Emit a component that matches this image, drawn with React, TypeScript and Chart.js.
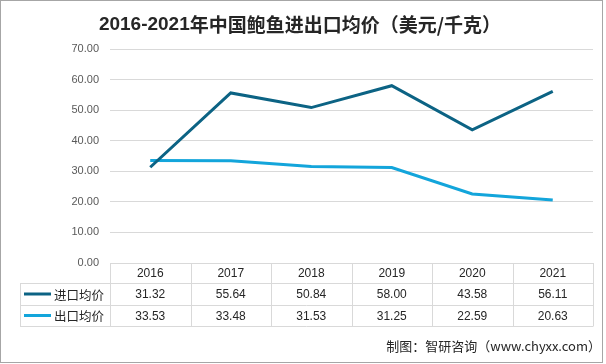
import React, { useEffect, useRef } from "react";
import { Chart, registerables } from "chart.js";

Chart.register(...registerables);

const titleNumPart = "2016-2021";
const titleCjkPart = "年中国鲍鱼进出口均价（美元/千克）";
const sourceText = "制图：智研咨询（www.chyxx.com）";
const years = ["2016", "2017", "2018", "2019", "2020", "2021"];
const seriesNames = ["进口均价", "出口均价"];
const importPrice = [31.32, 55.64, 50.84, 58.0, 43.58, 56.11];
const exportPrice = [33.53, 33.48, 31.53, 31.25, 22.59, 20.63];
const seriesColors = ["#0c6384", "#13a5db"];
const yMin = 0;
const yMax = 70;
const yStep = 10;

const NUM_FONT = '"Liberation Sans", "Noto Sans CJK SC", sans-serif';
const CJK_FONT = '"Noto Sans CJK SC", "Liberation Sans", sans-serif';

const decorPlugin = {
  id: "decor",
  afterDraw(chart: any) {
    const ctx = chart.ctx as CanvasRenderingContext2D;
    const area = chart.chartArea;
    const xs = chart.scales.x;
    ctx.save();

    // outer border
    ctx.strokeStyle = "#a6a6a6";
    ctx.lineWidth = 1;
    ctx.strokeRect(0.5, 0.5, 602, 362);

    // title (bold digits + CJK part)
    ctx.fillStyle = "#262626";
    ctx.textBaseline = "middle";
    ctx.textAlign = "left";
    const fNum = `bold 19px ${NUM_FONT}`;
    const fCjk = `bold 19px ${CJK_FONT}`;
    ctx.font = fNum;
    const w1 = ctx.measureText(titleNumPart).width;
    ctx.font = fCjk;
    const w2 = ctx.measureText(titleCjkPart).width;
    const tx = 300 - (w1 + w2) / 2;
    ctx.font = fNum;
    ctx.fillText(titleNumPart, tx, 25);
    ctx.font = fCjk;
    ctx.fillText(titleCjkPart, tx + w1, 25);

    // table
    const left = area.left;
    const right = area.right;
    const n = years.length;
    const colW = (right - left) / n;
    const yTop = area.bottom;
    const yH = yTop + 20;
    const yR1 = yTop + 42;
    const yR2 = yTop + 63;
    const labelLeft = 20;
    ctx.strokeStyle = "#d9d9d9";
    ctx.lineWidth = 1;
    const hLine = (x1: number, x2: number, y: number) => {
      ctx.beginPath();
      ctx.moveTo(x1, Math.round(y) + 0.5);
      ctx.lineTo(x2, Math.round(y) + 0.5);
      ctx.stroke();
    };
    const vLine = (x: number, y1: number, y2: number) => {
      ctx.beginPath();
      ctx.moveTo(Math.round(x) + 0.5, y1);
      ctx.lineTo(Math.round(x) + 0.5, y2);
      ctx.stroke();
    };
    hLine(left, right, yTop);
    hLine(labelLeft, right, yH);
    hLine(labelLeft, right, yR1);
    hLine(labelLeft, right, yR2);
    vLine(labelLeft, yH, yR2 + 0.5);
    for (let i = 0; i <= n; i++) vLine(left + i * colW, yTop, yR2 + 0.5);

    ctx.fillStyle = "#262626";
    ctx.font = `12px ${NUM_FONT}`;
    ctx.textAlign = "center";
    years.forEach((y, i) => {
      const cx = xs.getPixelForValue(i);
      ctx.fillText(y, cx, (yTop + yH) / 2 + 1);
      ctx.fillText(importPrice[i].toFixed(2), cx, (yH + yR1) / 2 + 1);
      ctx.fillText(exportPrice[i].toFixed(2), cx, (yR1 + yR2) / 2 + 1);
    });

    const rows = [
      [(yH + yR1) / 2, 0],
      [(yR1 + yR2) / 2, 1],
    ];
    rows.forEach(([cy, s]) => {
      ctx.strokeStyle = seriesColors[s];
      ctx.lineWidth = 3;
      ctx.beginPath();
      ctx.moveTo(24, cy);
      ctx.lineTo(51, cy);
      ctx.stroke();
      ctx.fillStyle = "#262626";
      ctx.font = `12.5px ${CJK_FONT}`;
      ctx.textAlign = "left";
      ctx.fillText(seriesNames[s], 54, cy + 1);
    });

    // source
    ctx.fillStyle = "#262626";
    ctx.font = `13px ${CJK_FONT}`;
    ctx.textAlign = "right";
    ctx.fillText(sourceText, 601, 346);

    ctx.restore();
  },
};

export default function App() {
  const ref = useRef<HTMLCanvasElement | null>(null);
  useEffect(() => {
    if (!ref.current) return;
    const chart = new Chart(ref.current, {
      type: "line",
      data: {
        labels: years,
        datasets: [
          {
            label: seriesNames[0],
            data: importPrice,
            borderColor: seriesColors[0],
            backgroundColor: seriesColors[0],
            borderWidth: 3,
            pointRadius: 0,
            tension: 0,
          },
          {
            label: seriesNames[1],
            data: exportPrice,
            borderColor: seriesColors[1],
            backgroundColor: seriesColors[1],
            borderWidth: 3,
            pointRadius: 0,
            tension: 0,
          },
        ],
      },
      options: {
        responsive: false,
        animation: false,
        layout: { padding: { left: 20, right: 13, top: 49, bottom: 101 } },
        plugins: {
          legend: { display: false },
          tooltip: { enabled: false },
          title: { display: false },
        },
        scales: {
          x: {
            type: "category",
            display: false,
            offset: true,
          },
          y: {
            min: yMin,
            max: yMax,
            afterFit: (scale: any) => {
              scale.width = 90;
            },
            ticks: {
              stepSize: yStep,
              padding: 11,
              color: "#595959",
              font: { family: NUM_FONT, size: 11 },
              callback: (v: any) => Number(v).toFixed(2),
            },
            grid: { color: "#d9d9d9", drawTicks: false },
            border: { display: false },
          },
        },
      },
      plugins: [decorPlugin],
    } as any);
    return () => chart.destroy();
  }, []);
  return (
    <div style={{ position: "absolute", left: 0, top: 0, width: 606, height: 364, background: "#fff" }}>
      <canvas ref={ref} width={606} height={364} style={{ width: 606, height: 364 }} />
    </div>
  );
}
